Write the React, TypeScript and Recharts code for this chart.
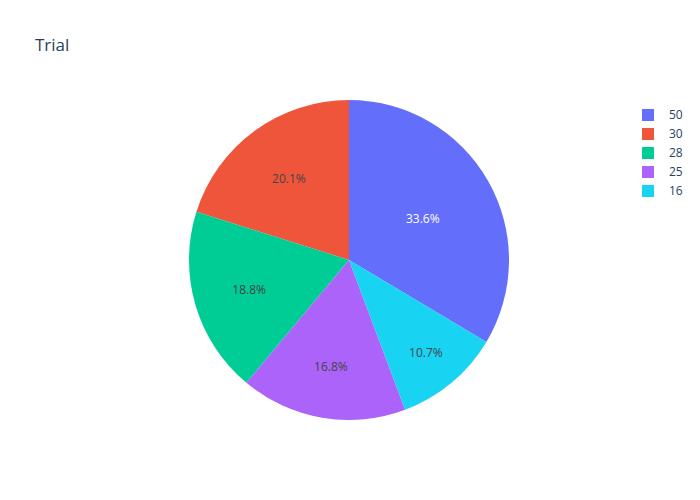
import React from 'react';
import { PieChart, Pie, Cell, Legend } from 'recharts';

const labels = ['50', '30', '28', '25', '16'];
const values = [50, 30, 28, 25, 16];
const colors = ['#636efa', '#EF553B', '#00cc96', '#ab63fa', '#19d3f3'];
const textColors = ['#ffffff', '#444444', '#444444', '#444444', '#444444'];
const title = 'Trial';

const data = labels.map((l, i) => ({ name: l, value: values[i] }));
const total = values.reduce((a, b) => a + b, 0);
// first slice ends at 12 o'clock, slices run counterclockwise
const startAngle = 90 - (360 * values[0]) / total;

const FONT = '"Open Sans", verdana, arial, sans-serif';
const RAD = Math.PI / 180;

const renderLabel = (props: any) => {
  const { cx, cy, midAngle, outerRadius, percent, index } = props;
  const a = percent * 360;
  const t = Math.max(0, Math.min(1, (120.8 - a) / 82));
  const f = 0.53 + 0.22 * Math.pow(t, 1.4);
  const r = outerRadius * f;
  const x = cx + r * Math.cos(-midAngle * RAD);
  const y = cy + r * Math.sin(-midAngle * RAD);
  return (
    <text
      x={x}
      y={y}
      fill={textColors[index]}
      textAnchor="middle"
      dominantBaseline="central"
      style={{ fontFamily: FONT, fontSize: 12 }}
    >
      {(percent * 100).toFixed(1) + '%'}
    </text>
  );
};

const renderLegend = () => (
  <div style={{ fontFamily: FONT, fontSize: 12, color: '#2a3f5f' }}>
    {labels.map((l, i) => (
      <div key={l} style={{ display: 'flex', alignItems: 'center', height: 19 }}>
        <div style={{ width: 12, height: 12, background: colors[i], marginRight: 15 }} />
        <span>{l}</span>
      </div>
    ))}
  </div>
);

export default function App() {
  return (
    <div style={{ position: 'absolute', left: 0, top: 0, width: 700, height: 500, background: '#fff' }}>
      <div
        style={{
          position: 'absolute',
          left: 35,
          top: 35.5,
          fontFamily: FONT,
          fontSize: 17,
          lineHeight: '17px',
          color: '#2a3f5f',
          zIndex: 2,
        }}
      >
        {title}
      </div>
      <PieChart width={700} height={500} margin={{ top: 0, right: 0, bottom: 0, left: 0 }}>
        <Pie
          data={data}
          dataKey="value"
          nameKey="name"
          cx={349}
          cy={260}
          outerRadius={160}
          startAngle={startAngle}
          endAngle={startAngle + 360}
          stroke="none"
          label={renderLabel}
          labelLine={false}
          isAnimationActive={false}
        >
          {data.map((d, i) => (
            <Cell key={d.name} fill={colors[i]} />
          ))}
        </Pie>
        <Legend
          content={renderLegend}
          layout="vertical"
          verticalAlign="top"
          align="right"
          wrapperStyle={{ left: 642, top: 105, width: 58, right: 'auto' }}
        />
      </PieChart>
    </div>
  );
}
